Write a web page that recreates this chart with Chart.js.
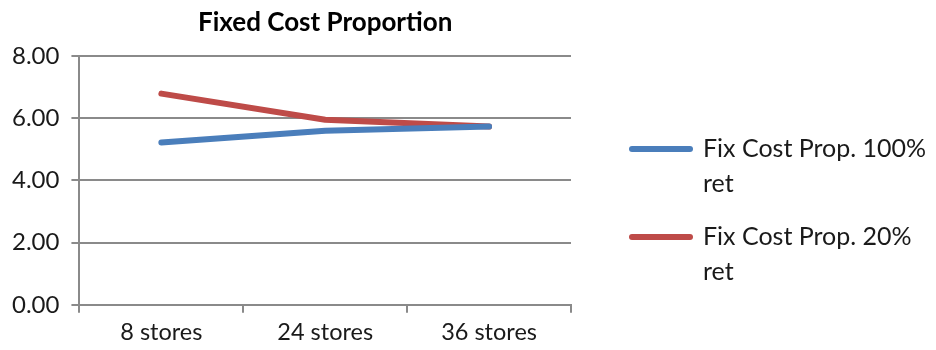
<!DOCTYPE html>
<html>
<head>
<meta charset="utf-8">
<script src="https://cdn.jsdelivr.net/npm/chart.js@4/dist/chart.umd.min.js"></script>
<style>
  html, body { margin: 0; padding: 0; background: #fff; }
  #wrap { width: 936px; height: 350px; position: relative; }
</style>
</head>
<body>
<div id="wrap"><canvas id="c" width="936" height="350"></canvas></div>
<script>
// Categories and series
const categories = ['8 stores', '24 stores', '36 stores'];
const fullRetention = [5.22, 5.60, 5.73];
const partialRetention = [6.79, 5.95, 5.73];
const seriesNames = [['Fix Cost Prop. 100%', 'ret'], ['Fix Cost Prop. 20%', 'ret']];
const chartTitle = 'Fixed Cost Proportion';

const FONT = 'Lato, "Open Sans", sans-serif';
const AXIS_GREY = '#8a8a8a';
const BLUE = '#4a7ebb';
const RED = '#be4b48';

// Title centred over the plot, legend with wrapped labels on the right
const decorations = {
  id: 'decorations',
  afterDraw(chart) {
    const ctx = chart.ctx;
    const area = chart.chartArea;
    ctx.save();
    ctx.fillStyle = '#000';
    ctx.font = 'bold 26px ' + FONT;
    ctx.textAlign = 'center';
    ctx.textBaseline = 'alphabetic';
    ctx.fillText(chartTitle, (area.left + area.right) / 2, 31);

    const colors = [BLUE, RED];
    const rowsY = [149, 237];
    ctx.font = '25px ' + FONT;
    ctx.textAlign = 'left';
    ctx.textBaseline = 'middle';
    chart.data.datasets.forEach((ds, i) => {
      const y = rowsY[i];
      ctx.strokeStyle = colors[i];
      ctx.lineWidth = 6;
      ctx.lineCap = 'round';
      ctx.beginPath();
      ctx.moveTo(632, y);
      ctx.lineTo(690, y);
      ctx.stroke();
      ctx.fillStyle = '#1a1a1a';
      seriesNames[i].forEach((line, j) => ctx.fillText(line, 703, y + j * 35));
    });
    ctx.restore();
  }
};

new Chart(document.getElementById('c'), {
  type: 'line',
  data: {
    labels: categories,
    datasets: [
      { label: seriesNames[0].join(' '), data: fullRetention, borderColor: BLUE, borderWidth: 6, pointRadius: 0, tension: 0, borderCapStyle: 'round', borderJoinStyle: 'round' },
      { label: seriesNames[1].join(' '), data: partialRetention, borderColor: RED, borderWidth: 6, pointRadius: 0, tension: 0, borderCapStyle: 'round', borderJoinStyle: 'round' }
    ]
  },
  options: {
    responsive: false,
    animation: false,
    events: [],
    layout: { padding: { top: 56, right: 365, left: 0, bottom: -3 } },
    plugins: { legend: { display: false }, title: { display: false }, tooltip: { enabled: false } },
    scales: {
      x: {
        offset: true,
        grid: { offset: true, drawOnChartArea: false, color: AXIS_GREY, lineWidth: 2, tickLength: 8, tickColor: AXIS_GREY },
        border: { color: AXIS_GREY, width: 2 },
        ticks: { color: '#1a1a1a', font: { family: FONT, size: 23.5 }, padding: 6 }
      },
      y: {
        min: 0, max: 8,
        grid: { color: AXIS_GREY, lineWidth: 2, tickLength: 8, tickColor: AXIS_GREY },
        border: { color: AXIS_GREY, width: 2 },
        ticks: { stepSize: 2, color: '#1a1a1a', font: { family: FONT, size: 24 }, padding: 12,
                 callback: v => Number(v).toFixed(2) }
      }
    }
  },
  plugins: [decorations]
});
</script>
</body>
</html>
